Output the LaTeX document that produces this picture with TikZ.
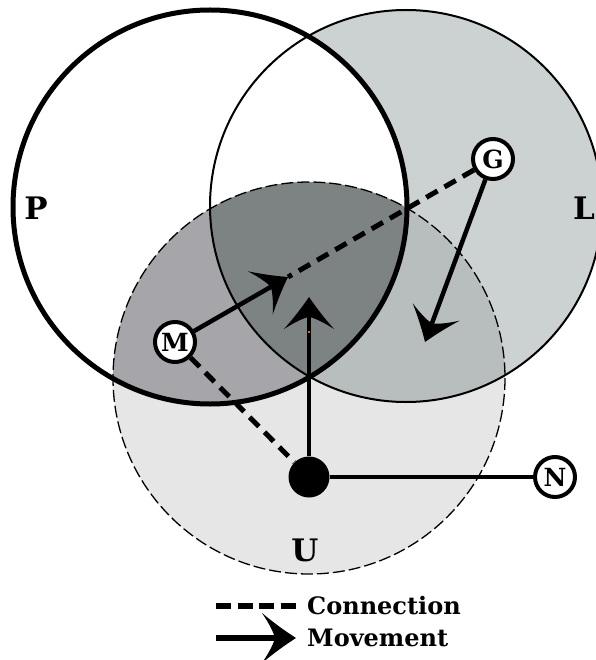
\documentclass[tikz,border=0pt]{standalone}
\usepackage{fontspec}
\setmainfont{DejaVu Serif}
\usetikzlibrary{arrows.meta}

% Swept arrow head: concave flanks and a notched back
\pgfdeclarearrow{
  name = Swept,
  parameters = {\the\pgfarrowlength,\the\pgfarrowwidth},
  setup code = {
    \pgfarrowssettipend{0pt}
    \pgfarrowssetlineend{-0.55\pgfarrowlength}
    \pgfarrowssetbackend{-\pgfarrowlength}
    \pgfarrowshullpoint{0pt}{0pt}
    \pgfarrowshullpoint{-\pgfarrowlength}{0.5\pgfarrowwidth}
    \pgfarrowshullpoint{-\pgfarrowlength}{-0.5\pgfarrowwidth}
    \pgfarrowssavethe\pgfarrowlength
    \pgfarrowssavethe\pgfarrowwidth
  },
  drawing code = {
    \pgfpathmoveto{\pgfqpoint{0pt}{0pt}}
    \pgfpathcurveto{\pgfpoint{-0.3\pgfarrowlength}{0.13\pgfarrowwidth}}{\pgfpoint{-0.65\pgfarrowlength}{0.3\pgfarrowwidth}}{\pgfpoint{-\pgfarrowlength}{0.5\pgfarrowwidth}}
    \pgfpathcurveto{\pgfpoint{-0.8\pgfarrowlength}{0.3\pgfarrowwidth}}{\pgfpoint{-0.66\pgfarrowlength}{0.12\pgfarrowwidth}}{\pgfpoint{-0.62\pgfarrowlength}{0pt}}
    \pgfpathcurveto{\pgfpoint{-0.66\pgfarrowlength}{-0.12\pgfarrowwidth}}{\pgfpoint{-0.8\pgfarrowlength}{-0.3\pgfarrowwidth}}{\pgfpoint{-\pgfarrowlength}{-0.5\pgfarrowwidth}}
    \pgfpathcurveto{\pgfpoint{-0.65\pgfarrowlength}{-0.3\pgfarrowwidth}}{\pgfpoint{-0.3\pgfarrowlength}{-0.13\pgfarrowwidth}}{\pgfqpoint{0pt}{0pt}}
    \pgfpathclose
    \pgfusepathqfill
  },
  defaults = {length=30pt, width=48pt}
}

\definecolor{Lfill}{RGB}{204,209,209}
\definecolor{Ufill}{RGB}{230,230,230}
\definecolor{PUfill}{RGB}{166,166,170}
\definecolor{LUfill}{RGB}{184,189,189}
\definecolor{PLUfill}{RGB}{125,131,131}
\definecolor{speck}{RGB}{230,110,20}

\tikzset{
  agent/.style={circle, draw, line width=4pt, fill=white, minimum size=40pt,
    inner sep=0pt, font=\bfseries\fontsize{25}{25}\selectfont},
  hubdot/.style={circle, fill=black, minimum size=41pt, inner sep=0pt},
  setlabel/.style={font=\bfseries\fontsize{31}{31}\selectfont, inner sep=0pt},
  legendtext/.style={font=\bfseries\fontsize{24}{24}\selectfont, anchor=west, inner sep=0pt},
  link/.style={line width=5pt, dash pattern=on 13pt off 8pt},
  legendlink/.style={line width=5.5pt, dash pattern=on 15pt off 6.5pt},
  move/.style={line width=4.5pt, -{Swept[length=32pt,width=50pt]}},
  legendmove/.style={line width=5.5pt, -{Swept[length=34pt,width=50pt]}},
  tie/.style={line width=4pt},
  thinrim/.style={line width=2pt},
  thickrim/.style={line width=5pt},
  dashrim/.style={line width=1.3pt, dash pattern=on 12pt off 4pt},
}

\begin{document}
\begin{tikzpicture}[x=1pt, y=-1pt]
  \useasboundingbox (0,0) rectangle (595,660);

  % set circles
  \def\Pcirc{(210,207) circle[radius=197]}
  \def\Lcirc{(406,206) circle[radius=196]}
  \def\Ucirc{(309,378) circle[radius=196]}

  % region fills
  \fill[Lfill] \Lcirc;
  \fill[white] \Pcirc;
  \fill[Ufill] \Ucirc;
  \begin{scope}
    \clip \Ucirc;
    \fill[PUfill] \Pcirc;
    \fill[LUfill] \Lcirc;
    \begin{scope}
      \clip \Pcirc;
      \fill[PLUfill] \Lcirc;
    \end{scope}
  \end{scope}

  % outlines
  \draw[dashrim] \Ucirc;
  \draw[thinrim] \Lcirc;
  \draw[thickrim] \Pcirc;

  % set labels
  \node[setlabel] (lblP) at (36,208) {P};
  \node[setlabel] (lblL) at (584,208) {L};
  \node[setlabel] (lblU) at (305,550) {U};

  % agents
  \node[agent] (M) at (175,342) {M};
  \node[agent] (G) at (493,159) {G};
  \node[agent] (N) at (555,477) {N};
  \node[hubdot] (hub) at (309,477) {};

  % arrow targets
  \coordinate (A) at (288,277);
  \coordinate (B) at (309,297);
  \coordinate (C) at (425,342);

  % connections and movements
  \draw[link] (G) -- (A);
  \draw[link] (M) -- (hub);
  \draw[move] (M) -- (A);
  \draw[move] (hub) -- (B);
  \draw[move] (G) -- (C);
  \draw[tie] (hub) -- (N);

  \fill[speck] (307.5,331) rectangle (309.5,333);

  % legend
  \coordinate (c1) at (216,606);
  \coordinate (c2) at (296,606);
  \coordinate (m1) at (216,638);
  \coordinate (m2) at (296,638);
  \draw[legendlink] (c1) -- (c2);
  \draw[legendmove] (m1) -- (m2);
  \node[legendtext] (lgC) at (307,606) {Connection};
  \node[legendtext] (lgM) at (307,638) {Movement};
\end{tikzpicture}
\end{document}
